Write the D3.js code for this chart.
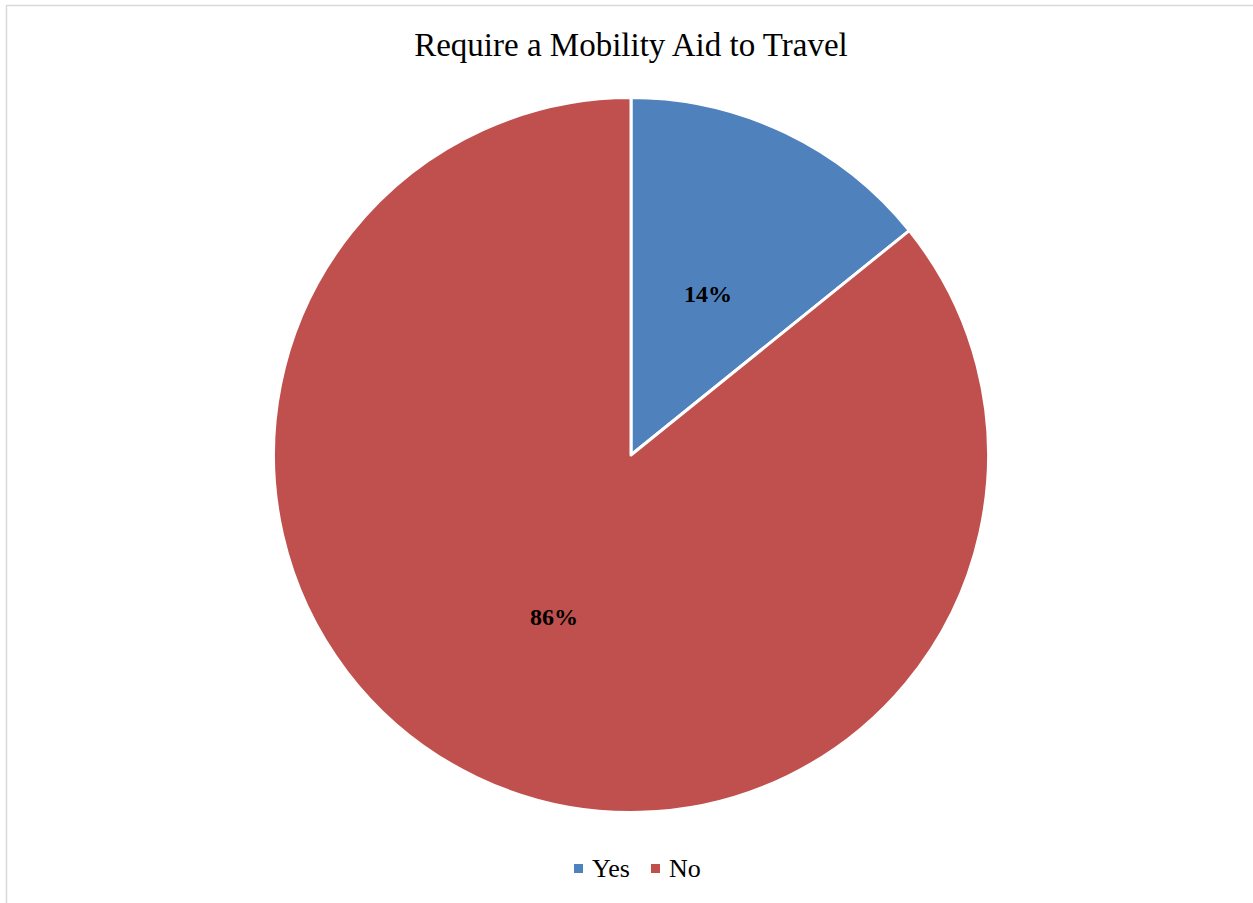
<!DOCTYPE html>
<html><head><meta charset="utf-8">
<script src="https://cdn.jsdelivr.net/npm/d3@7"></script>
<style>html,body{margin:0;padding:0;background:#fff;}svg{display:block;}</style>
</head><body>
<svg id="chart" width="1253" height="903"></svg>
<script>
const title = "Require a Mobility Aid to Travel";
const categories = ["Yes", "No"];
const values = [14.2, 85.8];
const labels = ["14%", "86%"];
const colors = ["#4F81BD", "#C0504D"];

const svg = d3.select("#chart");
const W = 1253, H = 903;
const font = "'Liberation Serif', 'DejaVu Serif', serif";

svg.append("rect").attr("x", 0).attr("y", 0).attr("width", W).attr("height", H).attr("fill", "#fff");
svg.append("rect").attr("x", 6.5).attr("y", 5.5).attr("width", W + 20).attr("height", H + 20)
  .attr("fill", "none").attr("stroke", "#d9d9d9").attr("stroke-width", 1.5);

svg.append("text").attr("x", 631).attr("y", 56).attr("text-anchor", "middle")
  .attr("font-family", font).attr("font-size", 33).attr("fill", "#000").text(title);

const cx = 631, cy = 455, r = 357.5;
const pie = d3.pie().sort(null).value(d => d)(values);
const arc = d3.arc().innerRadius(0).outerRadius(r);
const labelArc = d3.arc().innerRadius(r * 0.5).outerRadius(r * 0.5);
const g = svg.append("g").attr("transform", `translate(${cx},${cy})`);
g.selectAll("path").data(pie).join("path")
  .attr("d", arc).attr("fill", (d, i) => colors[i])
  .attr("stroke", "#fff").attr("stroke-width", 3).attr("stroke-linejoin", "round");
g.selectAll("text").data(pie).join("text")
  .attr("transform", d => `translate(${labelArc.centroid(d)})`)
  .attr("text-anchor", "middle").attr("dy", "0.35em")
  .attr("font-family", font).attr("font-weight", "bold").attr("font-size", 24)
  .attr("fill", "#000").text((d, i) => labels[i]);

const legend = svg.append("g");
const items = [{x: 574}, {x: 651}];
categories.forEach((c, i) => {
  legend.append("rect").attr("x", items[i].x).attr("y", 864).attr("width", 9).attr("height", 9).attr("fill", colors[i]);
  legend.append("text").attr("x", items[i].x + 18).attr("y", 877)
    .attr("font-family", font).attr("font-size", 26).attr("fill", "#000").text(c);
});
</script>
</body></html>
